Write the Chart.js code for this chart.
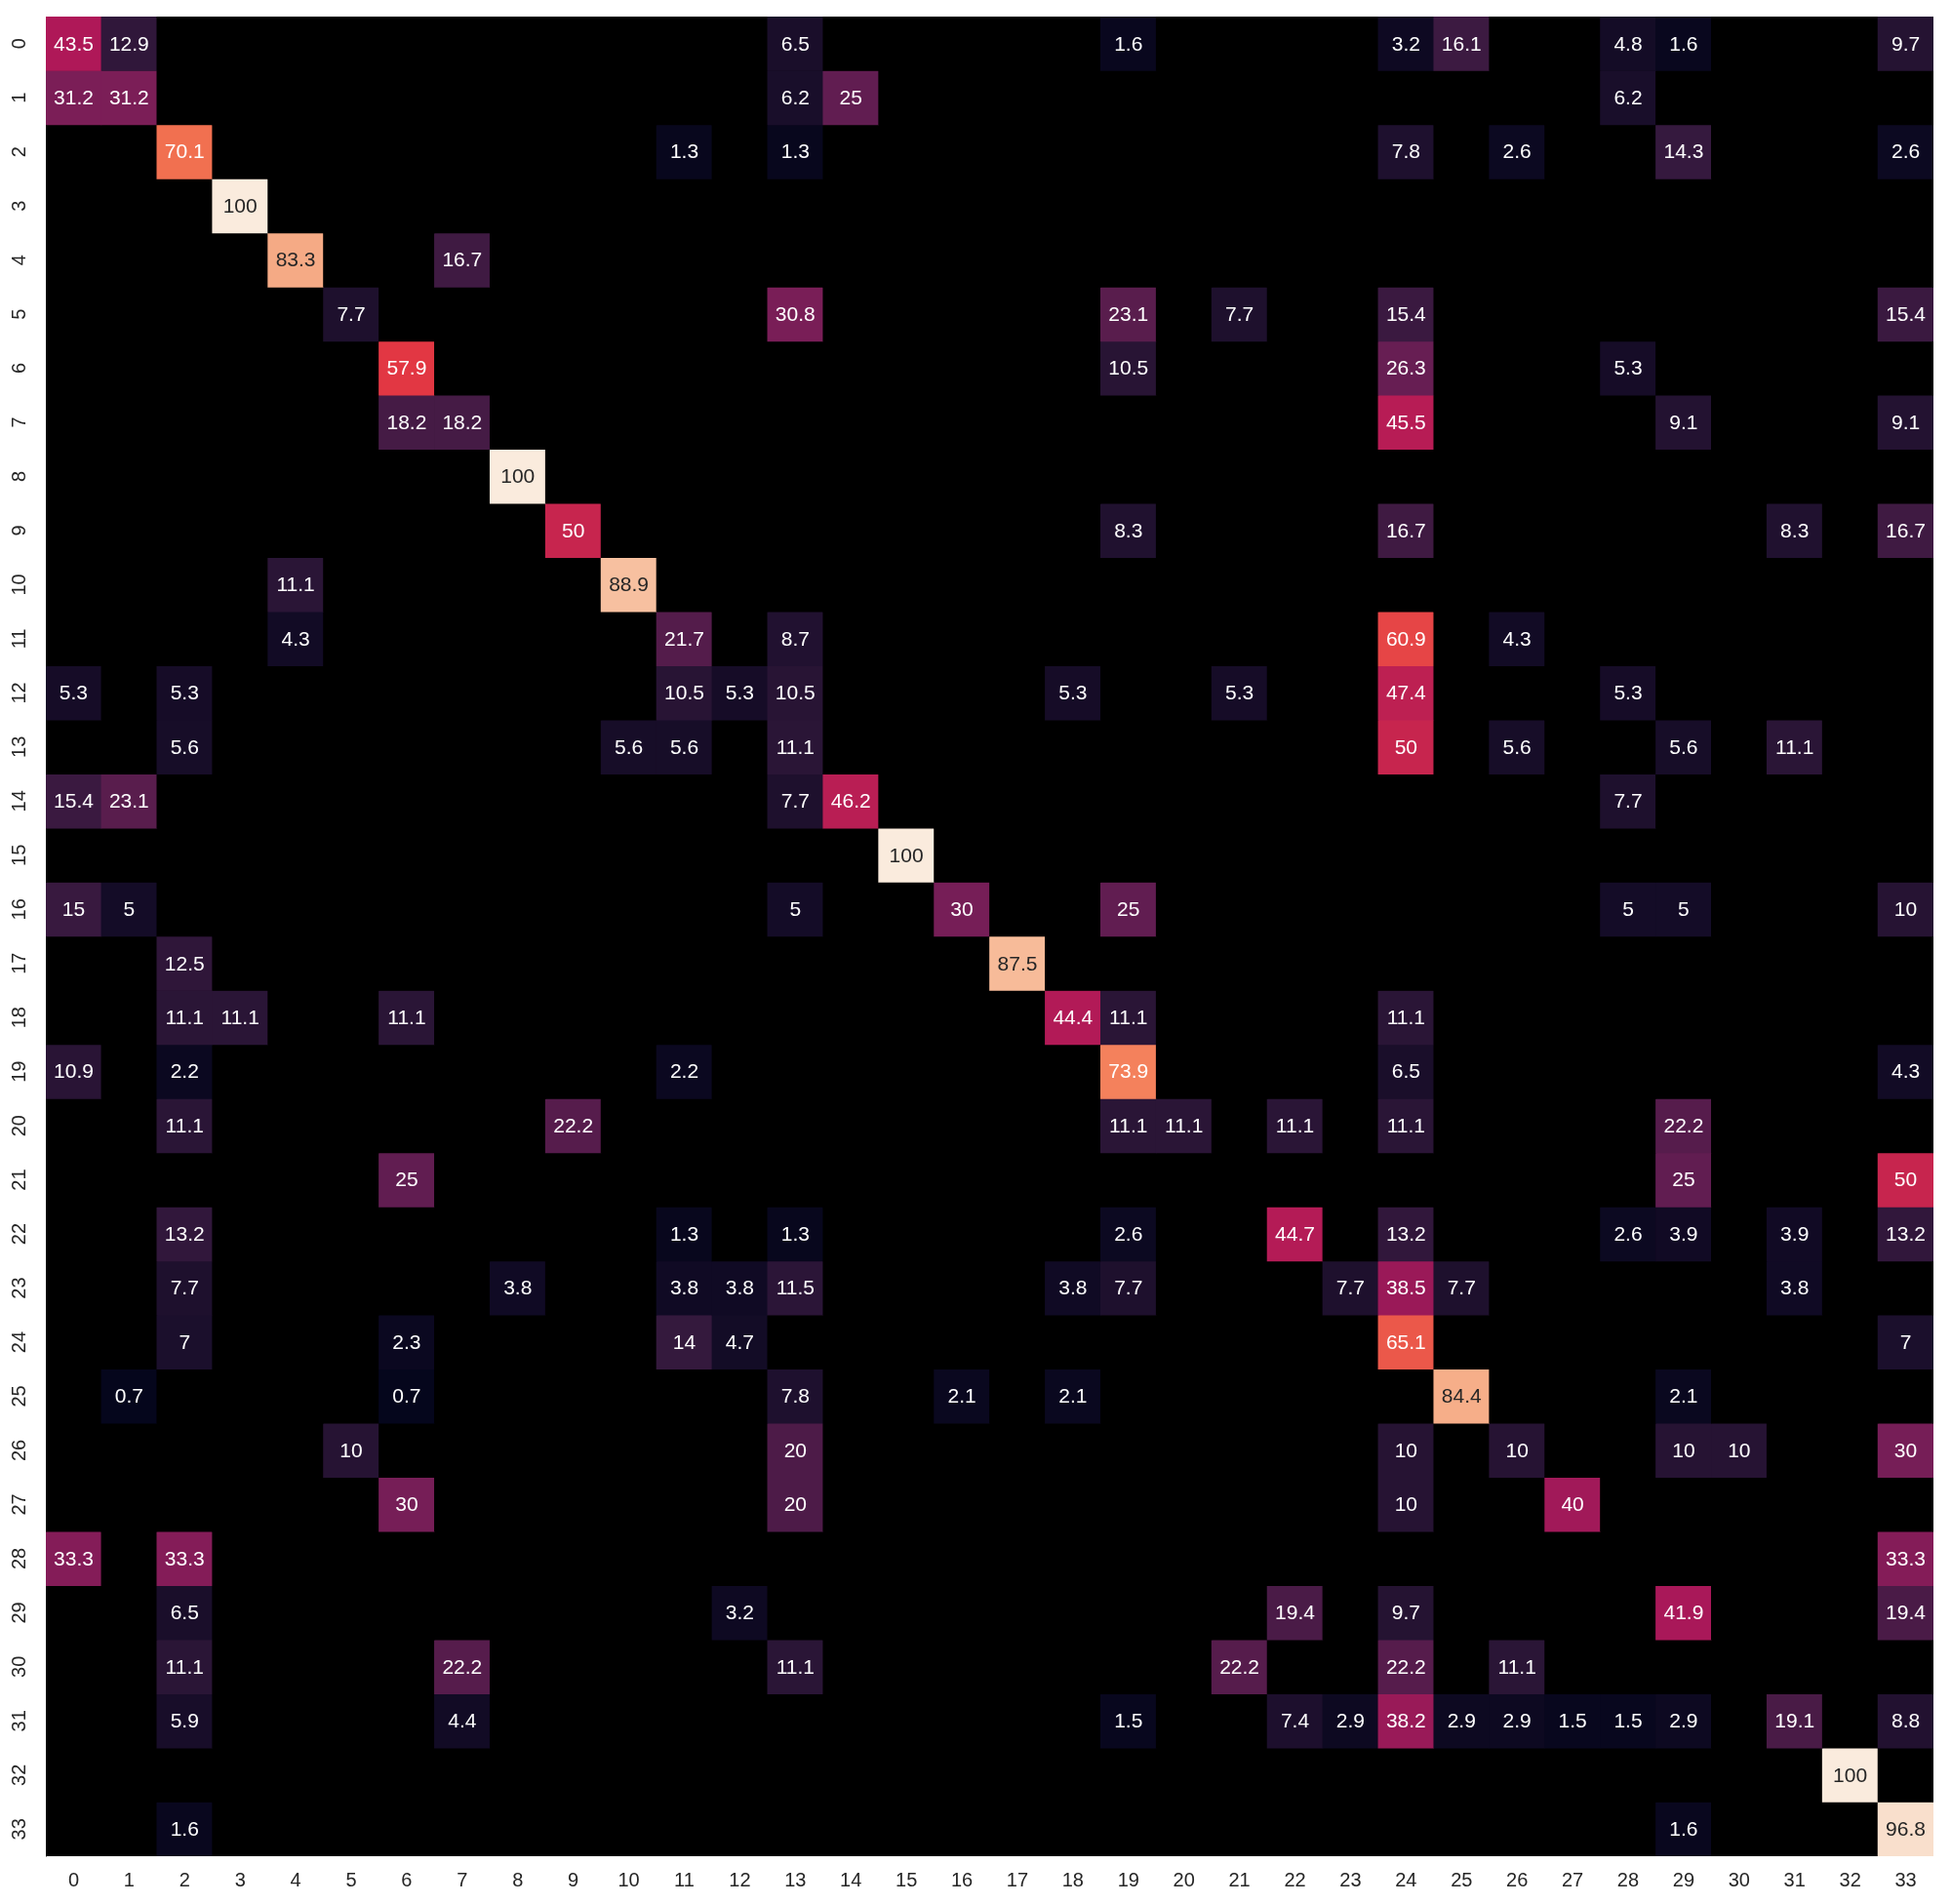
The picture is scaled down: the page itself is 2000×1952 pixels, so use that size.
<!DOCTYPE html>
<html>
<head>
<meta charset="utf-8">
<script src="https://cdn.jsdelivr.net/npm/chart.js@4.4.1/dist/chart.umd.min.js"></script>
<style>
  body { margin: 0; background: #fff; }
  #wrap { width: 2000px; height: 1952px; }
</style>
</head>
<body>
<div id="wrap"><canvas id="heatmap"></canvas></div>
<script>
// row / column labels
const rowLabels = Array.from({length: 34}, (_, i) => String(i));
const colLabels = Array.from({length: 34}, (_, i) => String(i));

// percentages, one array per row (0 = empty cell)
const cellValues = [
  [43.5,12.9,0,0,0,0,0,0,0,0, 0,0,0,6.5,0,0,0,0,0,1.6, 0,0,0,0,3.2,16.1,0,0,4.8,1.6, 0,0,0,9.7],
  [31.2,31.2,0,0,0,0,0,0,0,0, 0,0,0,6.2,25,0,0,0,0,0, 0,0,0,0,0,0,0,0,6.2,0, 0,0,0,0],
  [0,0,70.1,0,0,0,0,0,0,0, 0,1.3,0,1.3,0,0,0,0,0,0, 0,0,0,0,7.8,0,2.6,0,0,14.3, 0,0,0,2.6],
  [0,0,0,100,0,0,0,0,0,0, 0,0,0,0,0,0,0,0,0,0, 0,0,0,0,0,0,0,0,0,0, 0,0,0,0],
  [0,0,0,0,83.3,0,0,16.7,0,0, 0,0,0,0,0,0,0,0,0,0, 0,0,0,0,0,0,0,0,0,0, 0,0,0,0],
  [0,0,0,0,0,7.7,0,0,0,0, 0,0,0,30.8,0,0,0,0,0,23.1, 0,7.7,0,0,15.4,0,0,0,0,0, 0,0,0,15.4],
  [0,0,0,0,0,0,57.9,0,0,0, 0,0,0,0,0,0,0,0,0,10.5, 0,0,0,0,26.3,0,0,0,5.3,0, 0,0,0,0],
  [0,0,0,0,0,0,18.2,18.2,0,0, 0,0,0,0,0,0,0,0,0,0, 0,0,0,0,45.5,0,0,0,0,9.1, 0,0,0,9.1],
  [0,0,0,0,0,0,0,0,100,0, 0,0,0,0,0,0,0,0,0,0, 0,0,0,0,0,0,0,0,0,0, 0,0,0,0],
  [0,0,0,0,0,0,0,0,0,50, 0,0,0,0,0,0,0,0,0,8.3, 0,0,0,0,16.7,0,0,0,0,0, 0,8.3,0,16.7],
  [0,0,0,0,11.1,0,0,0,0,0, 88.9,0,0,0,0,0,0,0,0,0, 0,0,0,0,0,0,0,0,0,0, 0,0,0,0],
  [0,0,0,0,4.3,0,0,0,0,0, 0,21.7,0,8.7,0,0,0,0,0,0, 0,0,0,0,60.9,0,4.3,0,0,0, 0,0,0,0],
  [5.3,0,5.3,0,0,0,0,0,0,0, 0,10.5,5.3,10.5,0,0,0,0,5.3,0, 0,5.3,0,0,47.4,0,0,0,5.3,0, 0,0,0,0],
  [0,0,5.6,0,0,0,0,0,0,0, 5.6,5.6,0,11.1,0,0,0,0,0,0, 0,0,0,0,50,0,5.6,0,0,5.6, 0,11.1,0,0],
  [15.4,23.1,0,0,0,0,0,0,0,0, 0,0,0,7.7,46.2,0,0,0,0,0, 0,0,0,0,0,0,0,0,7.7,0, 0,0,0,0],
  [0,0,0,0,0,0,0,0,0,0, 0,0,0,0,0,100,0,0,0,0, 0,0,0,0,0,0,0,0,0,0, 0,0,0,0],
  [15,5,0,0,0,0,0,0,0,0, 0,0,0,5,0,0,30,0,0,25, 0,0,0,0,0,0,0,0,5,5, 0,0,0,10],
  [0,0,12.5,0,0,0,0,0,0,0, 0,0,0,0,0,0,0,87.5,0,0, 0,0,0,0,0,0,0,0,0,0, 0,0,0,0],
  [0,0,11.1,11.1,0,0,11.1,0,0,0, 0,0,0,0,0,0,0,0,44.4,11.1, 0,0,0,0,11.1,0,0,0,0,0, 0,0,0,0],
  [10.9,0,2.2,0,0,0,0,0,0,0, 0,2.2,0,0,0,0,0,0,0,73.9, 0,0,0,0,6.5,0,0,0,0,0, 0,0,0,4.3],
  [0,0,11.1,0,0,0,0,0,0,22.2, 0,0,0,0,0,0,0,0,0,11.1, 11.1,0,11.1,0,11.1,0,0,0,0,22.2, 0,0,0,0],
  [0,0,0,0,0,0,25,0,0,0, 0,0,0,0,0,0,0,0,0,0, 0,0,0,0,0,0,0,0,0,25, 0,0,0,50],
  [0,0,13.2,0,0,0,0,0,0,0, 0,1.3,0,1.3,0,0,0,0,0,2.6, 0,0,44.7,0,13.2,0,0,0,2.6,3.9, 0,3.9,0,13.2],
  [0,0,7.7,0,0,0,0,0,3.8,0, 0,3.8,3.8,11.5,0,0,0,0,3.8,7.7, 0,0,0,7.7,38.5,7.7,0,0,0,0, 0,3.8,0,0],
  [0,0,7,0,0,0,2.3,0,0,0, 0,14,4.7,0,0,0,0,0,0,0, 0,0,0,0,65.1,0,0,0,0,0, 0,0,0,7],
  [0,0.7,0,0,0,0,0.7,0,0,0, 0,0,0,7.8,0,0,2.1,0,2.1,0, 0,0,0,0,0,84.4,0,0,0,2.1, 0,0,0,0],
  [0,0,0,0,0,10,0,0,0,0, 0,0,0,20,0,0,0,0,0,0, 0,0,0,0,10,0,10,0,0,10, 10,0,0,30],
  [0,0,0,0,0,0,30,0,0,0, 0,0,0,20,0,0,0,0,0,0, 0,0,0,0,10,0,0,40,0,0, 0,0,0,0],
  [33.3,0,33.3,0,0,0,0,0,0,0, 0,0,0,0,0,0,0,0,0,0, 0,0,0,0,0,0,0,0,0,0, 0,0,0,33.3],
  [0,0,6.5,0,0,0,0,0,0,0, 0,0,3.2,0,0,0,0,0,0,0, 0,0,19.4,0,9.7,0,0,0,0,41.9, 0,0,0,19.4],
  [0,0,11.1,0,0,0,0,22.2,0,0, 0,0,0,11.1,0,0,0,0,0,0, 0,22.2,0,0,22.2,0,11.1,0,0,0, 0,0,0,0],
  [0,0,5.9,0,0,0,0,4.4,0,0, 0,0,0,0,0,0,0,0,0,1.5, 0,0,7.4,2.9,38.2,2.9,2.9,1.5,1.5,2.9, 0,19.1,0,8.8],
  [0,0,0,0,0,0,0,0,0,0, 0,0,0,0,0,0,0,0,0,0, 0,0,0,0,0,0,0,0,0,0, 0,0,100,0],
  [0,0,1.6,0,0,0,0,0,0,0, 0,0,0,0,0,0,0,0,0,0, 0,0,0,0,0,0,0,0,0,1.6, 0,0,0,96.8]
];

// "rocket" colormap stops, 0..100
const rocketStops = [
  [0.000, [3, 5, 26]],
  [0.143, [53, 25, 62]],
  [0.286, [112, 31, 87]],
  [0.429, [173, 23, 89]],
  [0.571, [225, 51, 66]],
  [0.714, [243, 118, 81]],
  [0.857, [246, 180, 143]],
  [1.000, [250, 235, 221]]
];

function rocketRgb(v) {
  const t = Math.max(0, Math.min(1, v / 100));
  for (let i = 1; i < rocketStops.length; i++) {
    const [t1, c1] = rocketStops[i];
    const [t0, c0] = rocketStops[i - 1];
    if (t <= t1) {
      const f = (t - t0) / (t1 - t0);
      return c0.map((c, k) => Math.round(c + (c1[k] - c) * f));
    }
  }
  return rocketStops[rocketStops.length - 1][1];
}

function cellColor(v) {
  if (!v) return '#000000';
  const c = rocketRgb(v);
  return 'rgb(' + c.join(',') + ')';
}

// same rule seaborn uses to pick the annotation colour
function textColor(v) {
  const lin = rocketRgb(v).map(c => {
    c = c / 255;
    return c <= 0.03928 ? c / 12.92 : Math.pow((c + 0.055) / 1.055, 2.4);
  });
  const lum = 0.2126 * lin[0] + 0.7152 * lin[1] + 0.0722 * lin[2];
  return lum > 0.408 ? '#262626' : '#ffffff';
}

const datasets = rowLabels.map((label, r) => ({
  label: label,
  data: colLabels.map(() => 1),
  backgroundColor: cellValues[r].map(cellColor),
  borderWidth: 0,
  barPercentage: 1,
  categoryPercentage: 1
}));

const areaBackground = {
  id: 'areaBackground',
  beforeDatasetsDraw(chart) {
    const a = chart.chartArea;
    chart.ctx.save();
    chart.ctx.fillStyle = '#000';
    chart.ctx.fillRect(a.left, a.top, a.right - a.left, a.bottom - a.top);
    chart.ctx.restore();
  }
};

const cellText = {
  id: 'cellText',
  afterDatasetsDraw(chart) {
    const ctx = chart.ctx;
    ctx.save();
    ctx.font = '21px "Liberation Sans", Arial, sans-serif';
    ctx.textAlign = 'center';
    ctx.textBaseline = 'middle';
    chart.data.datasets.forEach((ds, r) => {
      chart.getDatasetMeta(r).data.forEach((bar, c) => {
        const v = cellValues[r][c];
        if (!v) return;
        const p = bar.getCenterPoint();
        ctx.fillStyle = textColor(v);
        ctx.fillText(String(v), p.x, p.y + 1);
      });
    });
    ctx.restore();
  }
};

new Chart(document.getElementById('heatmap'), {
  type: 'bar',
  data: { labels: colLabels, datasets: datasets },
  options: {
    responsive: true,
    maintainAspectRatio: false,
    devicePixelRatio: 1,
    animation: false,
    layout: { padding: { left: 0, top: 17, right: 18, bottom: 0 } },
    plugins: { legend: { display: false }, tooltip: { enabled: false } },
    scales: {
      x: {
        stacked: true,
        grid: { display: false, drawTicks: false },
        border: { display: false },
        ticks: {
          color: '#262626',
          font: { family: '"Liberation Sans", Arial, sans-serif', size: 20 },
          padding: 13,
          maxRotation: 0,
          autoSkip: false
        },
        afterFit(scale) { scale.height = 49; }
      },
      y: {
        stacked: true,
        reverse: true,
        min: 0,
        max: 34,
        grid: { display: false, drawTicks: false },
        border: { display: true, color: '#999999', width: 1 },
        afterBuildTicks(scale) {
          scale.ticks = rowLabels.map((_, i) => ({ value: i + 0.5 }));
        },
        ticks: {
          color: '#262626',
          font: { family: '"Liberation Sans", Arial, sans-serif', size: 20 },
          minRotation: 90,
          maxRotation: 90,
          crossAlign: 'center',
          padding: 15,
          autoSkip: false,
          callback: (value, index) => rowLabels[index]
        },
        afterFit(scale) {
          scale.width = 47;
          scale.paddingTop = 0;
          scale.paddingBottom = 0;
        }
      }
    }
  },
  plugins: [areaBackground, cellText]
});
</script>
</body>
</html>
